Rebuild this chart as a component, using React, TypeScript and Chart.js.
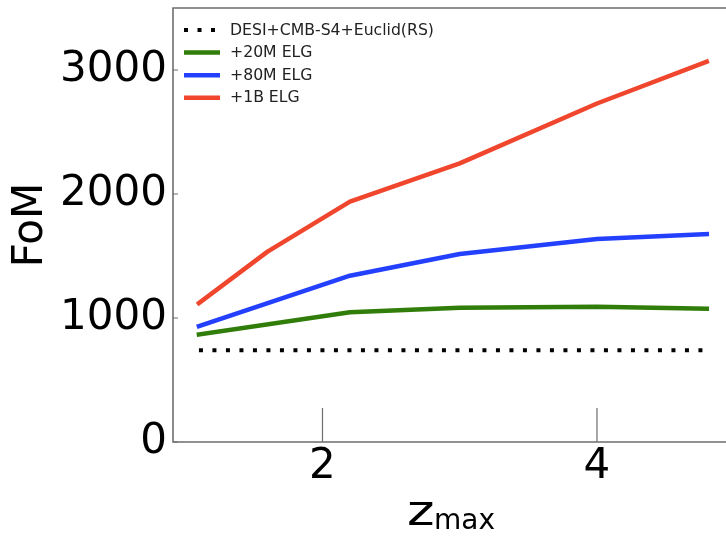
import React, { useEffect, useRef } from "react";
import { Chart, registerables } from "chart.js";

Chart.register(...registerables);

// ---- data ----
const zBase = [1.1, 4.8];
const fomBase = [740, 740];
const z20 = [1.1, 2.2, 3.0, 4.0, 4.8];
const fom20 = [868, 1046, 1083, 1091, 1075];
const z80 = [1.1, 2.2, 3.0, 4.0, 4.8];
const fom80 = [935, 1341, 1516, 1637, 1677];
const z1B = [1.1, 1.6, 2.2, 3.0, 4.0, 4.8];
const fom1B = [1120, 1535, 1938, 2247, 2730, 3067];
const seriesLabels = ["DESI+CMB-S4+Euclid(RS)", "+20M ELG", "+80M ELG", "+1B ELG"];
const seriesColors = ["#000000", "#317d0a", "#2340ff", "#f0462d"];
const xTicks = [2, 4];
const yTicks = [0, 1000, 2000, 3000];
const yTitle = "FoM";
const xTitleMain = "z";
const xTitleSub = "max";

const FONT = "'DejaVu Sans', sans-serif";
const DOT_DASH = [4, 9.5];

const pts = (xs: number[], ys: number[]) => xs.map((x, i) => ({ x, y: ys[i] }));

const decor = {
  id: "decor",
  afterDatasetsDraw(chart: any) {
    const { ctx, chartArea: a, scales } = chart;
    const xs = scales.x;
    const ys = scales.y;
    ctx.save();
    // spines
    ctx.strokeStyle = "#6e6e6e";
    ctx.lineWidth = 1.6;
    ctx.setLineDash([]);
    ctx.beginPath();
    ctx.moveTo(a.right + 10, a.top);
    ctx.lineTo(a.left, a.top);
    ctx.lineTo(a.left, a.bottom);
    ctx.lineTo(a.right + 10, a.bottom);
    ctx.stroke();
    // ticks (inward)
    ctx.lineWidth = 1.2;
    ctx.beginPath();
    for (const v of yTicks) {
      const py = ys.getPixelForValue(v);
      ctx.moveTo(a.left, py);
      ctx.lineTo(a.left + 5, py);
    }
    for (const v of xTicks) {
      const px = xs.getPixelForValue(v);
      ctx.moveTo(px, a.bottom);
      ctx.lineTo(px, a.bottom - 34);
    }
    ctx.stroke();

    // legend
    const ds = chart.data.datasets;
    ctx.font = `15.7px ${FONT}`;
    ctx.textBaseline = "middle";
    ctx.textAlign = "left";
    for (let i = 0; i < ds.length; i++) {
      const cy = 30 + i * 22.6;
      ctx.strokeStyle = ds[i].borderColor;
      ctx.lineWidth = ds[i].borderWidth;
      ctx.setLineDash(ds[i].borderDash || []);
      ctx.lineCap = "butt";
      ctx.beginPath();
      ctx.moveTo(184, cy);
      ctx.lineTo(220, cy);
      ctx.stroke();
      ctx.setLineDash([]);
      ctx.fillStyle = "#222";
      ctx.fillText(ds[i].label, 230, cy + 0.5);
    }

    // axis titles
    ctx.fillStyle = "#000";
    ctx.save();
    ctx.translate(31, 225);
    ctx.rotate(-Math.PI / 2);
    ctx.font = `42px ${FONT}`;
    ctx.textAlign = "center";
    ctx.textBaseline = "middle";
    ctx.fillText(yTitle, 0, 0);
    ctx.restore();

    ctx.textAlign = "left";
    ctx.textBaseline = "alphabetic";
    ctx.save();
    ctx.translate(407, 525);
    ctx.scale(1.25, 1);
    ctx.font = `42px ${FONT}`;
    ctx.fillText(xTitleMain, 0, 0);
    ctx.restore();
    ctx.font = `28px ${FONT}`;
    ctx.fillText(xTitleSub, 434, 529);
    ctx.restore();
  },
};

export default function App() {
  const ref = useRef<HTMLCanvasElement>(null);
  useEffect(() => {
    document.body.style.margin = "0";
    const c = ref.current!;
    const chart = new Chart(c, {
      type: "scatter",
      data: {
        datasets: [
          {
            label: seriesLabels[0],
            data: pts(zBase, fomBase),
            showLine: true,
            borderColor: seriesColors[0],
            borderWidth: 4,
            borderDash: DOT_DASH,
            borderCapStyle: "butt",
            pointRadius: 0,
          },
          {
            label: seriesLabels[1],
            data: pts(z20, fom20),
            showLine: true,
            borderColor: seriesColors[1],
            borderWidth: 4.5,
            borderCapStyle: "square",
            borderJoinStyle: "round",
            pointRadius: 0,
          },
          {
            label: seriesLabels[2],
            data: pts(z80, fom80),
            showLine: true,
            borderColor: seriesColors[2],
            borderWidth: 4.5,
            borderCapStyle: "square",
            borderJoinStyle: "round",
            pointRadius: 0,
          },
          {
            label: seriesLabels[3],
            data: pts(z1B, fom1B),
            showLine: true,
            borderColor: seriesColors[3],
            borderWidth: 4.5,
            borderCapStyle: "square",
            borderJoinStyle: "round",
            pointRadius: 0,
          },
        ] as any,
      },
      options: {
        animation: false,
        responsive: false,
        events: [],
        layout: { padding: { top: 8, right: 0, left: 0, bottom: 0 } },
        plugins: { legend: { display: false }, title: { display: false }, tooltip: { enabled: false } },
        scales: {
          x: {
            type: "linear",
            min: 0.911,
            max: 4.94,
            border: { display: false },
            grid: { display: false, drawTicks: false },
            afterFit: (s: any) => {
              s.height = 95;
              s.paddingLeft = 0;
              s.paddingRight = 0;
            },
            afterBuildTicks: (s: any) => {
              s.ticks = xTicks.map((v) => ({ value: v }));
            },
            ticks: {
              padding: 0,
              color: "#000",
              font: { family: FONT, size: 42 },
              maxRotation: 0,
              autoSkip: false,
              callback: (v: any) => String(v),
            },
          },
          y: {
            type: "linear",
            min: 0,
            max: 3500,
            border: { display: false },
            grid: { display: false, drawTicks: false },
            afterFit: (s: any) => {
              s.width = 173;
              s.paddingTop = 0;
              s.paddingBottom = 0;
            },
            afterBuildTicks: (s: any) => {
              s.ticks = yTicks.map((v) => ({ value: v }));
            },
            ticks: {
              padding: 6,
              color: "#000",
              font: { family: FONT, size: 42 },
              autoSkip: false,
              callback: (v: any) => String(v),
            },
          },
        },
      },
      plugins: [decor],
    });
    return () => chart.destroy();
  }, []);
  return (
    <div style={{ position: "fixed", left: 0, top: 0, width: 726, height: 537, background: "#fff" }}>
      <canvas ref={ref} width={726} height={537} style={{ display: "block" }} />
    </div>
  );
}
